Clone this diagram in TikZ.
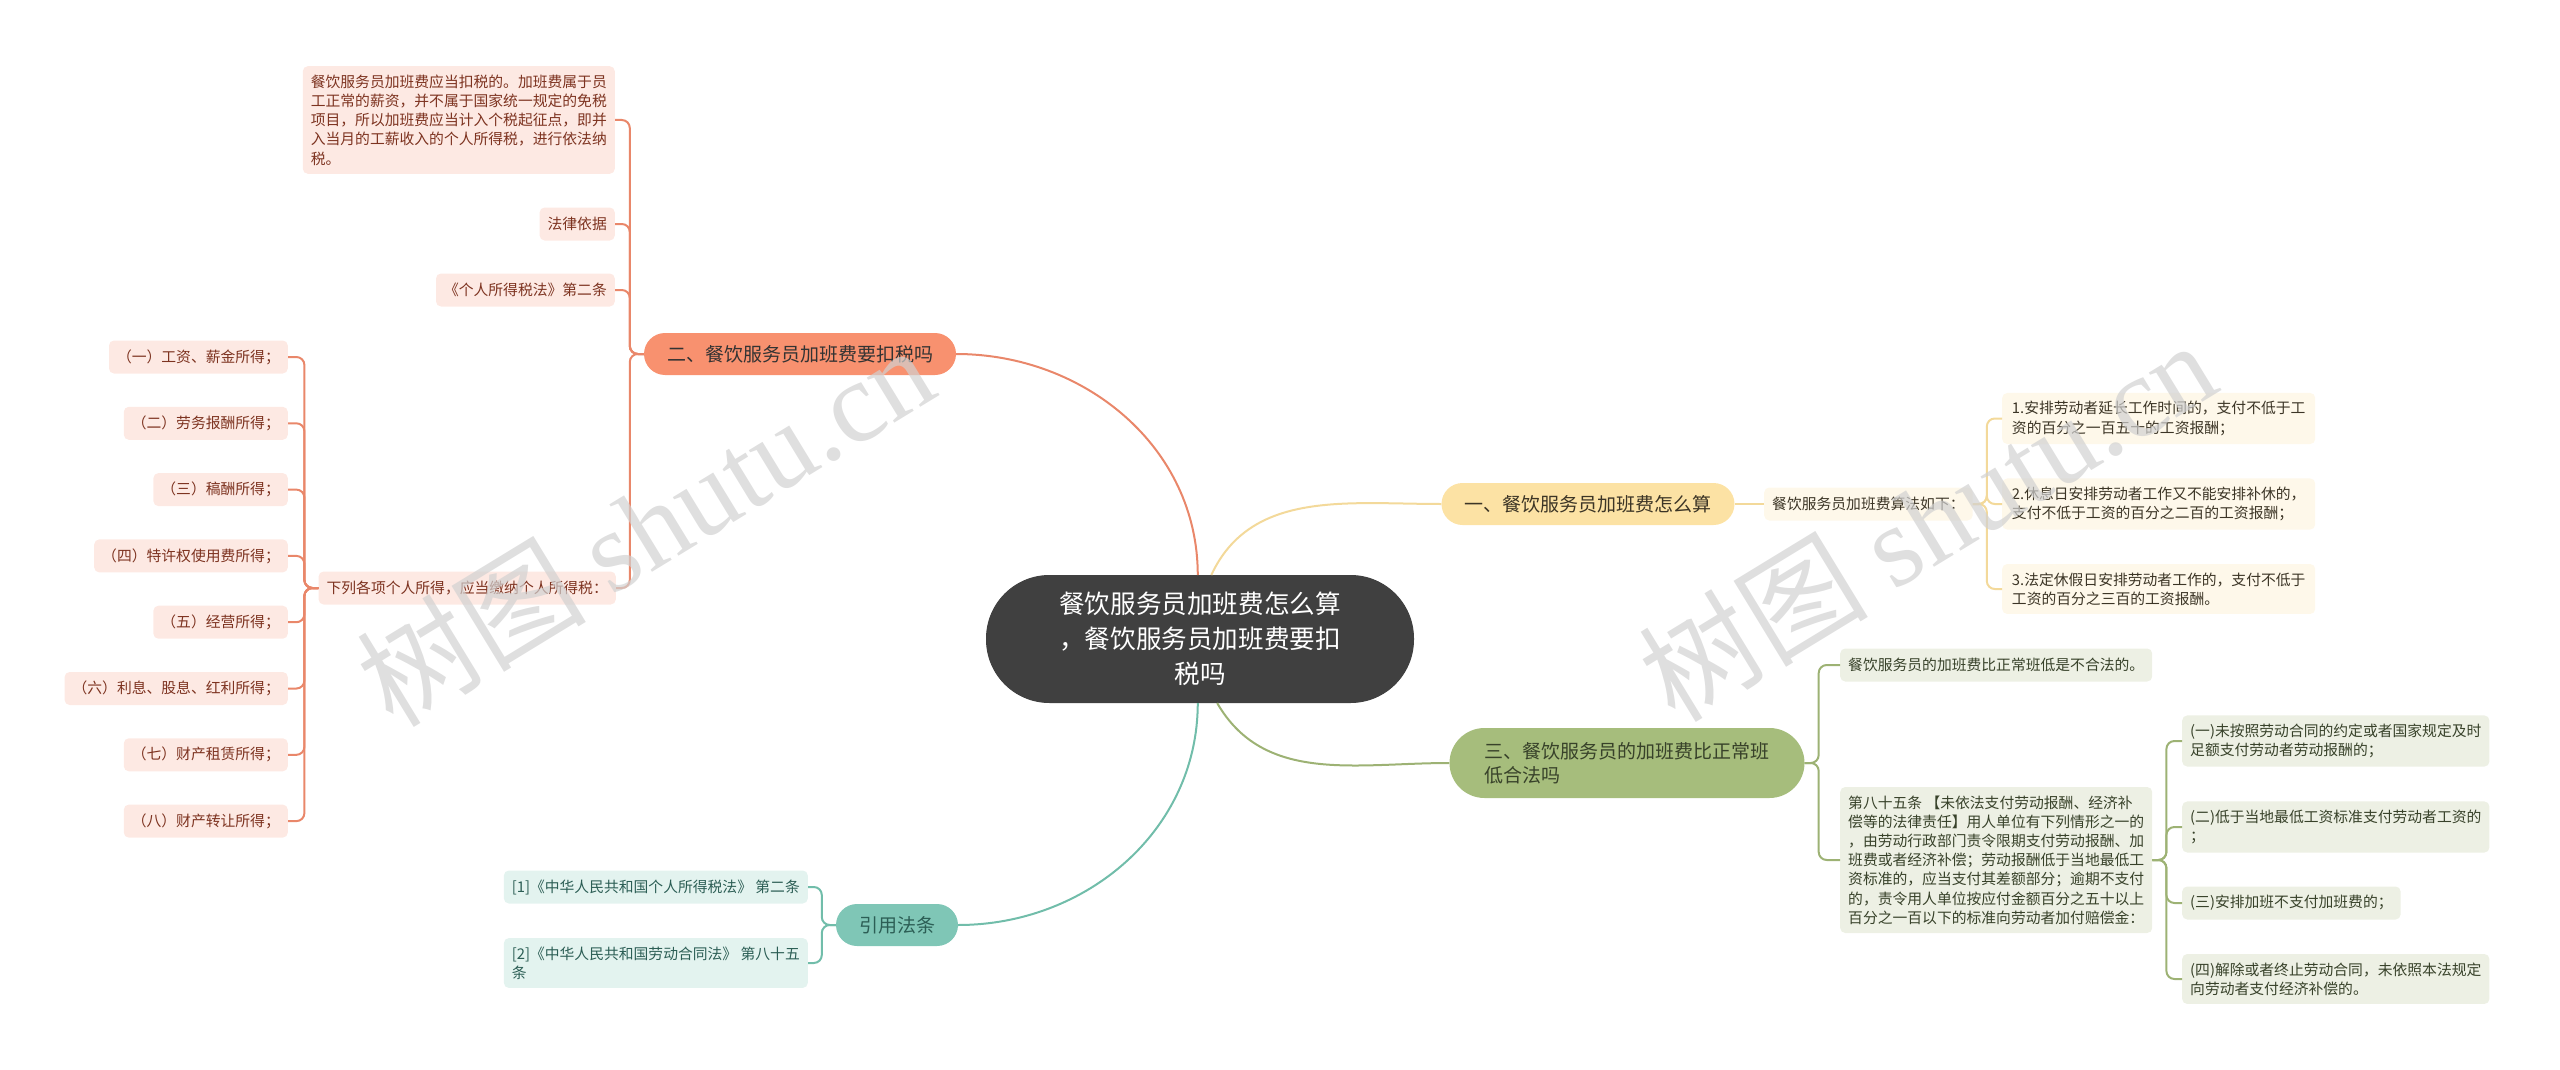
\documentclass[tikz,border=0pt]{standalone}
\usepackage{fontspec}
\setmainfont{Noto Sans CJK SC}
\newfontfamily\wmserif{Liberation Serif}
\usetikzlibrary{calc}
\definecolor{rootfill}{HTML}{404040}
\definecolor{orfill}{HTML}{F8916F}
\definecolor{orline}{HTML}{E9876A}
\definecolor{orleaf}{HTML}{FDE9E3}
\definecolor{ortext}{HTML}{7D3320}
\definecolor{yefill}{HTML}{FCE2A4}
\definecolor{yeline}{HTML}{F3D99A}
\definecolor{yeleaf}{HTML}{FEF8EA}
\definecolor{yetext}{HTML}{3C3526}
\definecolor{grfill}{HTML}{A6BD7C}
\definecolor{grline}{HTML}{9DB274}
\definecolor{grleaf}{HTML}{EDF0E4}
\definecolor{grtext}{HTML}{38422A}
\definecolor{tefill}{HTML}{7FC6B6}
\definecolor{teline}{HTML}{71BDAA}
\definecolor{teleaf}{HTML}{E3F3EF}
\definecolor{tetext}{HTML}{2C5E55}

\begin{document}
\begin{tikzpicture}[x = 1pt, y = -1pt,
	box/.style = {rounded corners = 5pt, inner xsep = 8pt, inner ysep = 8.5pt, minimum height = 33pt, align = left, font = \fontsize{14.8}{19.2}\selectfont},
	boxor/.style = {box, fill = orleaf, text = ortext},
	boxye/.style = {box, fill = yeleaf, text = yetext},
	boxgr/.style = {box, fill = grleaf, text = grtext},
	boxte/.style = {box, fill = teleaf, text = tetext},
	branch/.style = {rounded corners = 21pt, inner xsep = 23pt, minimum height = 42pt, align = left, font = \fontsize{19}{24}\selectfont},
	link/.style = {line width = 2pt, rounded corners = 8pt},
	wmark/.style = {rotate = 31.4, text = black!18, opacity = .7, font = \fontsize{115}{115}\selectfont}]
	\pgfmathsetmacro{\gapx}{14}
	\useasboundingbox (0, 0) rectangle (2560, 1070);
	\node [rounded corners = 63pt, minimum width = 427pt, minimum height = 127pt, fill = rootfill, draw = black!75, line width = 1pt, text = white, align = center, font = \fontsize{25.6}{35}\selectfont] (root) at (1200, 639) {餐饮服务员加班费怎么算\\，餐饮服务员加班费要扣\\税吗};
	\node [branch, fill = yefill, text = yetext] (calc) at (1588, 504) {一、餐饮服务员加班费怎么算};
	\node [branch, fill = orfill, text = black!80] (tax) at (800, 354) {二、餐饮服务员加班费要扣税吗};
	\node [branch, fill = grfill, text = grtext, minimum height = 70pt, rounded corners = 35pt, inner xsep = 35pt] (legal) at (1627, 763) {三、餐饮服务员的加班费比正常班\\低合法吗};
	\node [branch, fill = tefill, text = tetext] (cite) at (897, 925) {引用法条};
	\draw [link, draw = orline] (tax.east) to [out = 0, in = 90] (root.92);
	\draw [link, draw = yeline] (calc.west) to [out = 180, in = 65] (root.80);
	\draw [link, draw = grline] (legal.west) to [out = 180, in = -60] (root.-75);
	\draw [link, draw = teline] (cite.east) to [out = 0, in = -90] (root.-92);

	\node [boxye, anchor = west] (rule) at (1764, 504) {餐饮服务员加班费算法如下：};
	\node [boxye, anchor = west, minimum width = 313pt] (rulea) at (2002, 418.5) {1.安排劳动者延长工作时间的，支付不低于工\\资的百分之一百五十的工资报酬；};
	\node [boxye, anchor = west, minimum width = 313pt] (ruleb) at (2002, 504) {2.休息日安排劳动者工作又不能安排补休的，\\支付不低于工资的百分之二百的工资报酬；};
	\node [boxye, anchor = west, minimum width = 313pt] (rulec) at (2002, 589) {3.法定休假日安排劳动者工作的，支付不低于\\工资的百分之三百的工资报酬。};
	\draw [link, draw = yeline] (calc.east) -- (rule.west);
	\foreach \n in {rulea, ruleb, rulec}
		\draw [link, draw = yeline] (rule.east) -- ++(\gapx, 0) |- (\n.west);

	\node [boxor, anchor = east] (taxa) at (615, 120) {餐饮服务员加班费应当扣税的。加班费属于员\\工正常的薪资，并不属于国家统一规定的免税\\项目，所以加班费应当计入个税起征点，即并\\入当月的工薪收入的个人所得税，进行依法纳\\税。};
	\node [boxor, anchor = east] (taxb) at (615, 224) {法律依据};
	\node [boxor, anchor = east] (taxc) at (615, 290) {《个人所得税法》第二条};
	\node [boxor, anchor = east] (taxd) at (616, 588) {下列各项个人所得，应当缴纳个人所得税：};
	\foreach \n in {taxa, taxb, taxc, taxd}
		\draw [link, draw = orline] (tax.west) -- ++(-\gapx, 0) |- (\n.east);
	\foreach \txt [count = \i] in {（一）工资、薪金所得；, （二）劳务报酬所得；, （三）稿酬所得；, （四）特许权使用费所得；, （五）经营所得；, （六）利息、股息、红利所得；, （七）财产租赁所得；, （八）财产转让所得；} {
		\node [boxor, anchor = east] (item\i) at (288, {357 + 66.3 * (\i - 1)}) {\txt};
		\draw [link, draw = orline] (taxd.west) -- ++(-\gapx, 0) |- (item\i.east);
	}

	\node [boxgr, anchor = west] (lowa) at (1840, 665) {餐饮服务员的加班费比正常班低是不合法的。};
	\node [boxgr, anchor = west] (lowb) at (1840, 860) {第八十五条 【未依法支付劳动报酬、经济补\\偿等的法律责任】用人单位有下列情形之一的\\，由劳动行政部门责令限期支付劳动报酬、加\\班费或者经济补偿；劳动报酬低于当地最低工\\资标准的，应当支付其差额部分；逾期不支付\\的，责令用人单位按应付金额百分之五十以上\\百分之一百以下的标准向劳动者加付赔偿金：};
	\foreach \n in {lowa, lowb}
		\draw [link, draw = grline] (legal.east) -- ++(\gapx, 0) |- (\n.west);
	\node [boxgr, anchor = west] (case1) at (2182, 741) {(一)未按照劳动合同的约定或者国家规定及时\\足额支付劳动者劳动报酬的；};
	\node [boxgr, anchor = west] (case2) at (2182, 827) {(二)低于当地最低工资标准支付劳动者工资的\\；};
	\node [boxgr, anchor = west] (case3) at (2182, 903) {(三)安排加班不支付加班费的；};
	\node [boxgr, anchor = west] (case4) at (2182, 979) {(四)解除或者终止劳动合同，未依照本法规定\\向劳动者支付经济补偿的。};
	\foreach \n in {case1, case2, case3, case4}
		\draw [link, draw = grline] (lowb.east) -- ++(\gapx, 0) |- (\n.west);

	\node [boxte, anchor = east] (law1) at (808, 887) {[1]《中华人民共和国个人所得税法》 第二条};
	\node [boxte, anchor = east] (law2) at (808, 963) {[2]《中华人民共和国劳动合同法》 第八十五\\条};
	\foreach \n in {law1, law2}
		\draw [link, draw = teline] (cite.west) -- ++(-\gapx, 0) |- (\n.east);

	\node [wmark] (markl) at (645, 525) {树图 {\wmserif shutu.cn}};
	\node [wmark] (markr) at (1927, 520) {树图 {\wmserif shutu.cn}};
\end{tikzpicture}
\end{document}
